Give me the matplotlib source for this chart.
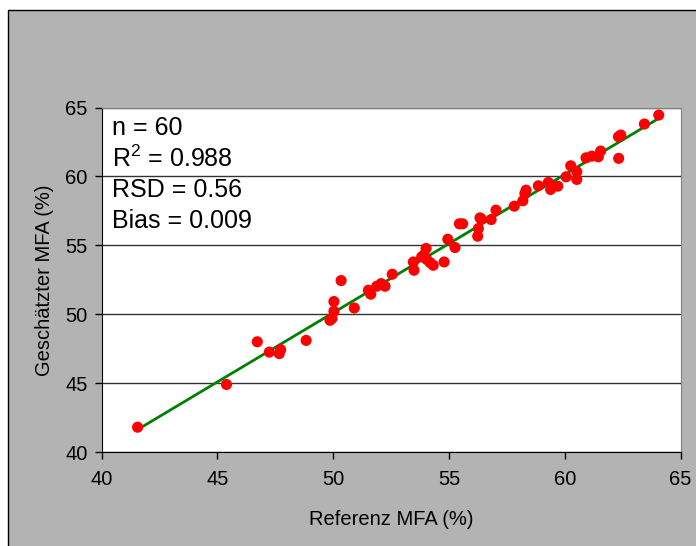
import matplotlib
matplotlib.use("Agg")
import matplotlib.pyplot as plt
import numpy as np
from matplotlib.patches import Rectangle

plt.rcParams['font.family'] = ['Liberation Sans', 'DejaVu Sans']
plt.rcParams['mathtext.fontset'] = 'custom'
plt.rcParams['mathtext.rm'] = 'Liberation Sans'
plt.rcParams['mathtext.it'] = 'Liberation Sans'

ref_mfa = [41.55, 45.39, 46.72, 47.24, 47.67, 47.73, 48.83, 49.86, 49.95, 50.03,
           50.03, 50.34, 50.91, 51.52, 51.62, 51.88, 52.07, 52.24, 52.55, 53.46,
           53.49, 53.82, 53.92, 54.01, 54.04, 54.18, 54.32, 54.79, 54.95, 55.26,
           55.45, 55.59, 56.24, 56.27, 56.34, 56.40, 56.82, 57.03, 57.82, 58.19,
           58.28, 58.33, 58.86, 59.29, 59.39, 59.70, 60.06, 60.26, 60.52, 60.52,
           60.92, 61.17, 61.45, 61.55, 62.32, 62.42, 62.33, 63.44, 64.06]
est_mfa = [41.80, 44.90, 48.00, 47.25, 47.14, 47.43, 48.10, 49.56, 49.70, 50.21,
           50.92, 52.44, 50.45, 51.74, 51.45, 52.03, 52.22, 52.03, 52.90, 53.79,
           53.19, 54.16, 54.30, 54.77, 53.97, 53.75, 53.55, 53.79, 55.44, 54.84,
           56.56, 56.56, 55.66, 56.22, 56.99, 56.90, 56.87, 57.55, 57.84, 58.23,
           58.75, 59.00, 59.32, 59.56, 59.05, 59.29, 59.97, 60.77, 60.34, 59.78,
           61.35, 61.47, 61.42, 61.84, 62.88, 63.00, 61.31, 63.80, 64.45]

stats_lines = ["n = 60", "R$^{2}$ = 0.988", "RSD = 0.56", "Bias = 0.009"]
ticks = [40, 45, 50, 55, 60, 65]

W, H = 696, 546
fig = plt.figure(figsize=(W/100, H/100), dpi=100)
fig.patch.set_facecolor('white')
fig.patches.append(Rectangle((8/W, -0.05), 1.1, (H-10)/H + 0.05, transform=fig.transFigure,
                             facecolor='#b3b3b3', edgecolor='black', lw=1.0, zorder=-5))

l, r, t, b = 101.7, 680.5, 107.5, 452.0
ax = fig.add_axes([l/W, 1-b/H, (r-l)/W, (b-t)/H])
ax.set_zorder(5)
ax.set_facecolor('white')
ax.set_xlim(40, 65)
ax.set_ylim(40, 65)
ax.set_xticks(ticks)
ax.set_yticks(ticks)
ax.yaxis.grid(True, color='#333333', lw=1.0)
ax.set_axisbelow(True)
for s in ['top', 'right']:
    ax.spines[s].set_color('#808080')
for s in ['left', 'bottom']:
    ax.spines[s].set_color('black')
ax.tick_params(axis='both', direction='out', length=5, width=1, labelsize=14.5, color='black')
ax.tick_params(axis='x', pad=8)
ax.tick_params(axis='y', pad=5)

x = np.array(ref_mfa)
y = np.array(est_mfa)
coef = np.polyfit(x, y, 1)
xl = np.array([x.min(), x.max()])
ax.plot(xl, np.polyval(coef, xl), color='#008000', lw=2.0, zorder=2)
ax.scatter(x, y, s=64, color='#ff0000', edgecolors='none', zorder=3)

for i, txt in enumerate(stats_lines):
    yc = 128 + 31*i
    ax.text((112-l)/(r-l), (b-yc)/(b-t), txt, transform=ax.transAxes,
            fontsize=18, va='center', ha='left', color='black')

ax.set_xlabel("Referenz MFA (%)", fontsize=14.5, labelpad=15)
ax.set_ylabel("Geschätzter MFA (%)", fontsize=14.5, labelpad=8)

fig.savefig("out.png", dpi=100, facecolor=fig.get_facecolor())
